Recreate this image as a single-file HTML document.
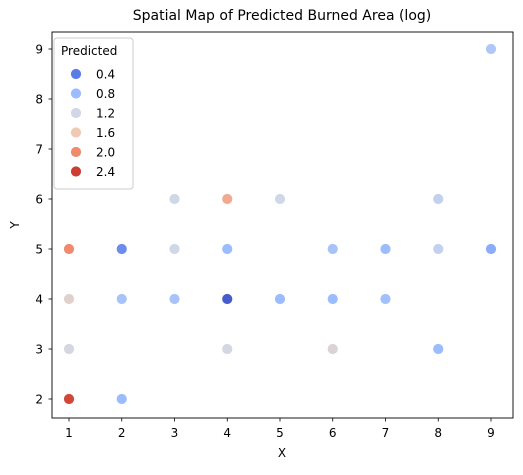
<!DOCTYPE html>
<html><head><meta charset="utf-8"><style>
body{margin:0;background:#fff;font-family:"Liberation Sans","DejaVu Sans",sans-serif}
</style></head><body>
<svg id="c" width="523" height="470" xmlns="http://www.w3.org/2000/svg" font-family="'DejaVu Sans','Liberation Sans',sans-serif">
<text x="282" y="20" font-size="14" text-anchor="middle" fill="#000">Spatial Map of Predicted Burned Area (log)</text>
<rect x="52" y="32" width="461" height="386" fill="none" stroke="#000" stroke-width="0.9"/>
<g id="axes"></g><g id="pts"></g>
<text x="282" y="457" font-size="12" text-anchor="middle">X</text>
<text transform="translate(19,225) rotate(-90)" font-size="12" text-anchor="middle">Y</text>
<g id="legend">
<rect x="54" y="38" width="79" height="151" rx="3" fill="#fff" fill-opacity="0.8" stroke="#ccc"/>
<text x="61" y="55" font-size="12">Predicted</text>
</g>
</svg>
<script>
const xs=[9,1,2,3,4,5,3,4,6,7,8,9,8,1,2,3,4,5,6,7,1,4,6,8,1,2];
const ys=[9,5,5,6,6,6,5,5,5,5,5,5,6,4,4,4,4,4,4,4,3,3,3,3,2,2];
const vals=[0.95,2.0,0.5,1.2,1.8,1.2,1.2,0.8,0.9,0.8,1.1,0.7,1.1,1.4,0.9,0.9,0.3,0.8,0.8,0.85,1.25,1.25,1.35,0.8,2.35,0.8];
const xTicks=[1,2,3,4,5,6,7,8,9];
const yTicks=[2,3,4,5,6,7,8,9];
const legendVals=[0.4,0.8,1.2,1.6,2.0,2.4];
const sx=v=>69+(v-1)*52.75, sy=v=>399-(v-2)*50;
const stops=[[0.25,[59,76,192]],[0.4,[91,124,230]],[0.8,[155,188,255]],[1.2,[208,216,232]],[1.6,[240,201,178]],[2.0,[239,138,109]],[2.4,[204,61,51]],[2.6,[180,4,38]]];
function col(v){if(v<=stops[0][0])return 'rgb('+stops[0][1]+')';for(let i=1;i<stops.length;i++){if(v<=stops[i][0]){const a=stops[i-1],b=stops[i],t=(v-a[0])/(b[0]-a[0]);return 'rgb('+a[1].map((c,k)=>Math.round(c+(b[1][k]-c)*t))+')';}}return 'rgb('+stops[stops.length-1][1]+')';}
const NS='http://www.w3.org/2000/svg';
function mk(t,a,p){const e=document.createElementNS(NS,t);for(const k in a)e.setAttribute(k,a[k]);p.appendChild(e);return e;}
const ax=document.getElementById('axes');
xTicks.forEach(t=>{const x=sx(t);
const l=mk('line',{x1:x,x2:x,y1:418,y2:421.5,stroke:'#000','stroke-width':0.8},ax);


const tx=mk('text',{x:x,y:437,'font-size':12,'text-anchor':'middle'},ax);tx.textContent=t;

});
yTicks.forEach(t=>{const y=sy(t);
const l=mk('line',{x1:48.5,x2:52,y1:y,y2:y,stroke:'#000','stroke-width':0.8},ax);


const tx=mk('text',{x:43,y:y+4.5,'font-size':12,'text-anchor':'end'},ax);tx.textContent=t;

});
const pg=document.getElementById('pts');
vals.forEach((v,i)=>{const c=mk('circle',{cx:sx(xs[i]),cy:sy(ys[i]),r:5.5,fill:col(v),stroke:'#fff','stroke-width':0.8},pg);

});
const lg=document.getElementById('legend');
legendVals.forEach((v,i)=>{const y=74+i*19.5;
const c=mk('circle',{cx:76,cy:y,r:5.5,fill:col(v),stroke:'#fff','stroke-width':0.8},lg);


const t=mk('text',{x:96,y:y+4.5,'font-size':12},lg);t.textContent=v.toFixed(1);

});
</script>
</body></html>
